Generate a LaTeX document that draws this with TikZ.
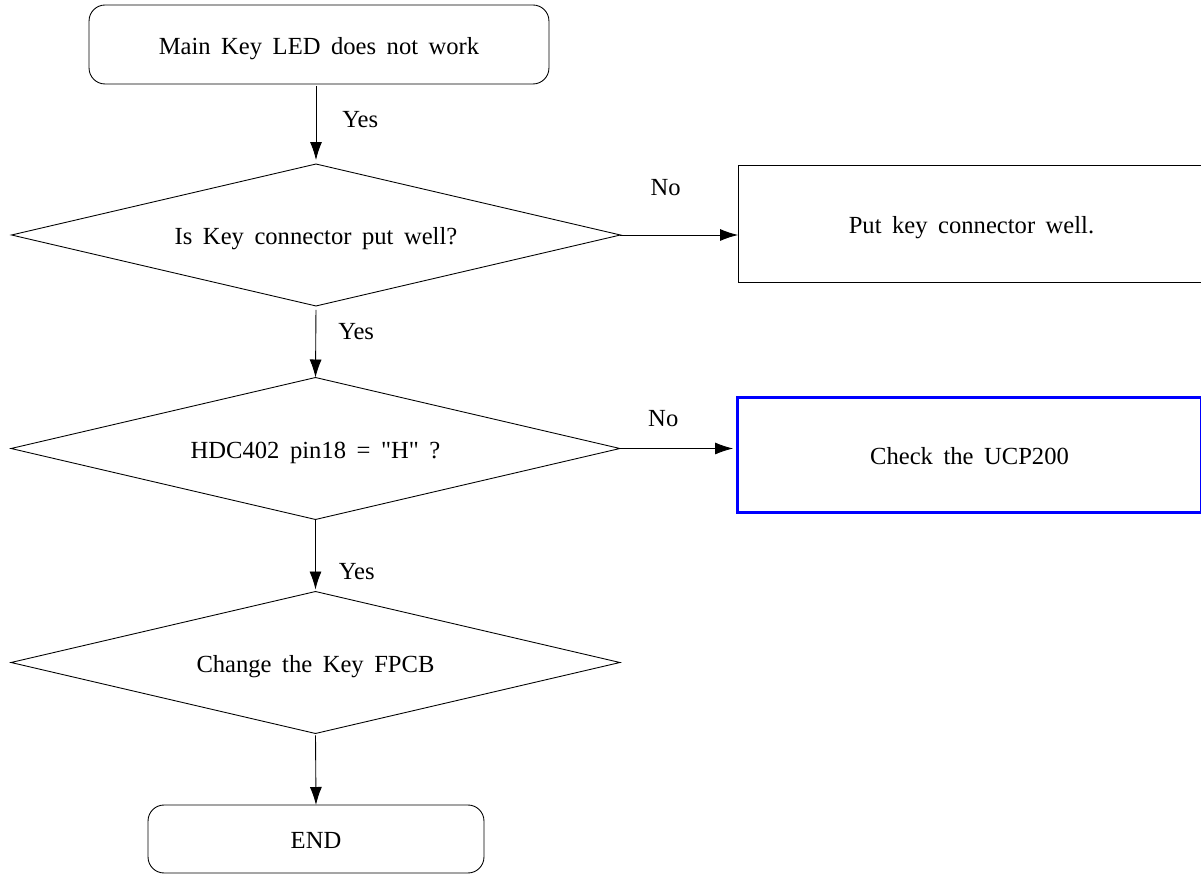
\documentclass[tikz,border=0pt]{standalone}
\usepackage{fontspec}
\setmainfont{Liberation Serif}
\usetikzlibrary{arrows.meta,shapes.geometric}
\newcommand{\chartfont}{\fontsize{14}{16}\selectfont\spaceskip=6pt\relax}

\begin{document}
\begin{tikzpicture}[x=0.02cm,y=-0.02cm,>={Latex[length=3.6mm,width=2.4mm]},
  line width=0.5pt,
  every node/.style={font=\chartfont},
  shp/.style={outer sep=0pt,text height=11.2pt,text depth=0pt},
  terminal/.style={shp,draw,rounded corners=0.32cm},
  decision/.style={shp,draw,diamond,aspect=4.29,inner sep=0pt,
    minimum width=12.18cm,minimum height=2.84cm},
  action/.style={shp,draw,rectangle},
  lbl/.style={inner sep=0pt}]
  \useasboundingbox (0,0) rectangle (1201,874);
  % boxes
  \node[terminal,minimum width=9.2cm,minimum height=1.58cm] (start) at (319,44.5) {Main Key LED does not work};
  \node[decision] (keyconn) at (316,235) {Is Key connector put well?};
  \node[action,minimum width=9.34cm,minimum height=2.34cm] (putkey) at (971.5,223.5) {Put key connector well.};
  \node[decision] (pincheck) at (315.5,448.5) {HDC402 pin18 = \textquotedbl H\textquotedbl\ ?};
  \node[action,draw=blue,line width=1.7pt,minimum width=9.3cm,minimum height=2.32cm] (checkucp) at (969.5,455) {Check the UCP200};
  \node[decision] (fpcb) at (315.5,662.5) {Change the Key FPCB};
  \node[terminal,minimum width=6.72cm,minimum height=1.36cm] (finish) at (316,839) {END};
  % arrows
  \draw[->,shorten <=0.4mm,shorten >=0.8mm] (keyconn.north |- start.south) -- node[lbl,right=0.52cm,pos=0.44] {Yes} (keyconn.north);
  \draw[->] (keyconn.east) -- node[lbl,above=0.78cm,pos=0.385] {No} (putkey.west |- keyconn.east);
  \draw[->,shorten <=0.8mm] (keyconn.south) -- node[lbl,right=0.44cm,pos=0.36] {Yes} (pincheck.north);
  \draw[->,shorten >=0.8mm] (pincheck.east) -- node[lbl,above=0.42cm,pos=0.37] {No} (checkucp.west |- pincheck.east);
  \draw[->,shorten >=0.4mm] (pincheck.south) -- node[lbl,right=0.46cm,pos=0.72] {Yes} (fpcb.north);
  \draw[->,shorten <=0.4mm] (fpcb.south) -- (finish.north);
\end{tikzpicture}
\end{document}
